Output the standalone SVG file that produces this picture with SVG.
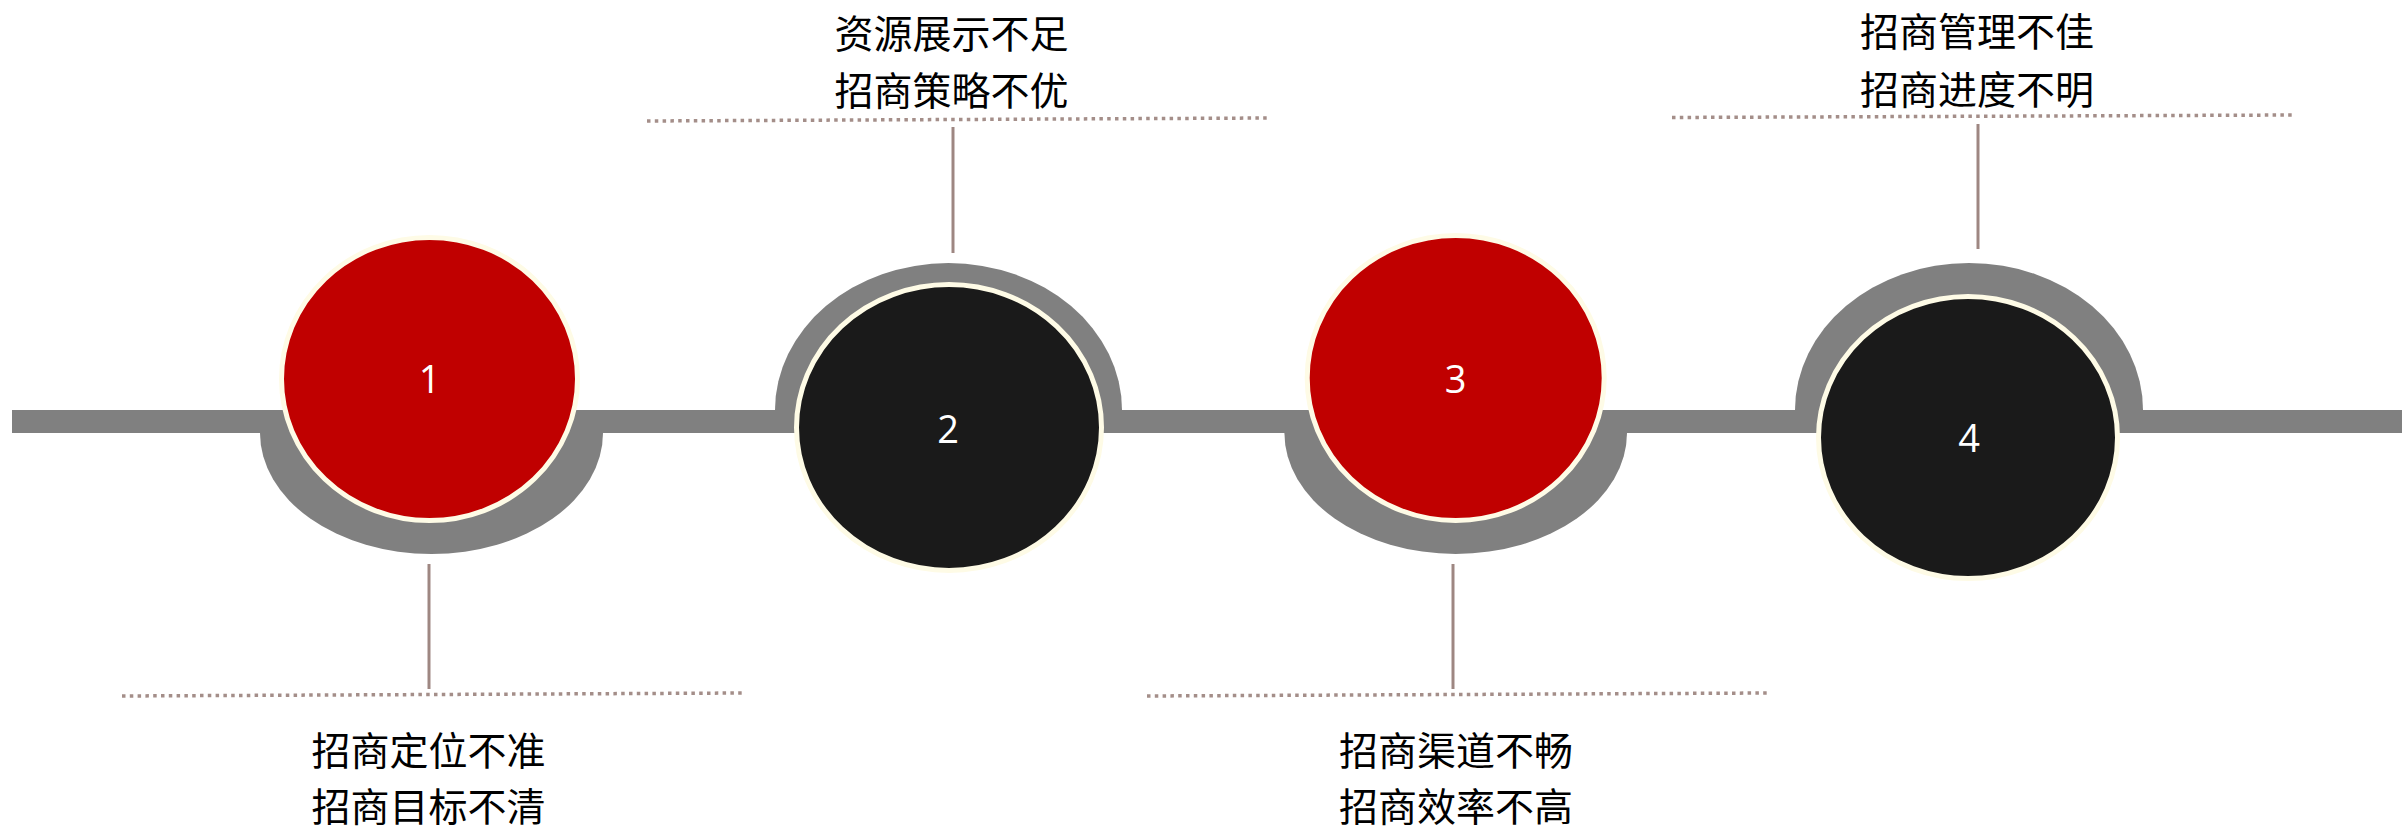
<svg xmlns="http://www.w3.org/2000/svg" width="2402" height="829" viewBox="0 0 2402 829">
  <style>
    .track { fill: #808080; }
    .stem { stroke: #9E8782; stroke-width: 3; fill: none; }
    .dots { stroke: #A48E89; stroke-width: 3.5; fill: none; stroke-dasharray: 3.5 4.3; }
    .disc { stroke: #FEFBE6; stroke-width: 5; }
    .red { fill: #C00000; }
    .dark { fill: #1A1A1A; }
    .num { font-family: "Open Sans", "Noto Sans", "DejaVu Sans", sans-serif; font-size: 38px; fill: #FFFFFF; text-anchor: middle; }
    .lbl { font-family: "Noto Sans CJK SC", "Noto Sans", sans-serif; font-size: 39px; fill: #000000; text-anchor: middle; }
  </style>
  <rect width="2402" height="829" fill="#FFFFFF"/>
  <g id="connectors">
    <rect class="track" x="12" y="410" width="2390" height="23"/>
    <path class="track" d="M 260 422 L 260 433 A 171.5 121 0 0 0 603 433 L 603 422 Z"/>
    <path class="track" d="M 1284.4 422 L 1284.4 433 A 171.3 121 0 0 0 1627 433 L 1627 422 Z"/>
    <path class="track" d="M 775 420 L 775 410 A 173.5 147 0 0 1 1122 410 L 1122 420 Z"/>
    <path class="track" d="M 1795 420 L 1795 410 A 174 147 0 0 1 2143 410 L 2143 420 Z"/>
    <line class="stem" x1="429" y1="564" x2="429" y2="689"/>
    <line class="stem" x1="953" y1="127" x2="953" y2="253"/>
    <line class="stem" x1="1453" y1="564" x2="1453" y2="689"/>
    <line class="stem" x1="1978" y1="124" x2="1978" y2="249"/>
    <line class="dots" x1="122" y1="696" x2="744" y2="693"/>
    <line class="dots" x1="647" y1="121" x2="1267" y2="118"/>
    <line class="dots" x1="1147" y1="696" x2="1767" y2="693"/>
    <line class="dots" x1="1672" y1="117.5" x2="2293" y2="115"/>
  </g>
  <g id="node-1">
    <ellipse class="disc red" cx="429.5" cy="379" rx="148" ry="141.5"/>
    <text class="num" x="429.5" y="393">1</text>
    <text class="lbl" x="428.5" y="765">招商定位不准</text>
    <text class="lbl" x="428.5" y="821">招商目标不清</text>
  </g>
  <g id="node-2">
    <ellipse class="disc dark" cx="949" cy="427.5" rx="152.5" ry="143"/>
    <text class="num" x="948" y="443">2</text>
    <text class="lbl" x="951.5" y="48">资源展示不足</text>
    <text class="lbl" x="951.5" y="105">招商策略不优</text>
  </g>
  <g id="node-3">
    <ellipse class="disc red" cx="1455.7" cy="378" rx="148.5" ry="142.5"/>
    <text class="num" x="1455.5" y="393">3</text>
    <text class="lbl" x="1456" y="765">招商渠道不畅</text>
    <text class="lbl" x="1456" y="821">招商效率不高</text>
  </g>
  <g id="node-4">
    <ellipse class="disc dark" cx="1968" cy="437.5" rx="149.5" ry="141"/>
    <text class="num" x="1969" y="452">4</text>
    <text class="lbl" x="1977" y="46">招商管理不佳</text>
    <text class="lbl" x="1977" y="104">招商进度不明</text>
  </g>
</svg>
